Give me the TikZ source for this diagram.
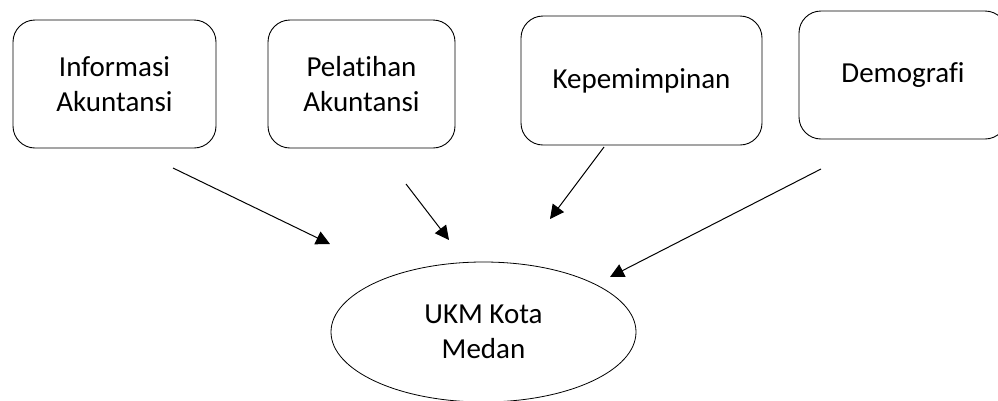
\documentclass[tikz,border=0pt]{standalone}
\usepackage{fontspec}
\setmainfont{Carlito}[Ligatures=NoCommon]
\newcommand{\nolig}{\kern0pt{}}
\usetikzlibrary{arrows.meta,shapes.geometric}
\begin{document}
\begin{tikzpicture}[x=1pt,y=-1pt,
  box/.style={draw, line width=0.9pt, rounded corners=22pt, align=center, inner sep=0pt,
    font=\fontsize{29}{35}\selectfont},
  oval/.style={draw, ellipse, line width=0.8pt, inner sep=0pt, align=center,
    font=\fontsize{29}{35}\selectfont},
  arr/.style={line width=1pt, -{Triangle[length=14pt,width=14pt]}}]
\useasboundingbox (0,0) rectangle (998,400);
\clip (0,0) rectangle (998,400);
\node[box, minimum width=203pt, minimum height=128pt] (b1) at (114.5,84) {Informasi\\Akuntansi};
\node[box, minimum width=187pt, minimum height=128pt] (b2) at (361.5,84) {Pelat\nolig ihan\\Akuntansi};
\node[box, minimum width=241pt, minimum height=129pt] (b3) at (641.5,80.5) {Kepemimpinan};
\node[box, minimum width=208pt, minimum height=128pt] (b4) at (903,75) {Demograf\nolig i};
\node[oval, minimum width=305pt, minimum height=140pt] (e) at (483.5,332) {UKM Kota\\Medan};
\coordinate (s1) at (173,168);
\coordinate (t1) at (330,244);
\coordinate (s2) at (406,184);
\coordinate (t2) at (449,240);
\coordinate (s3) at (604,147);
\coordinate (t3) at (550,219);
\coordinate (s4) at (821,169);
\coordinate (t4) at (610,277);
\draw[arr] (s1) -- (t1);
\draw[arr] (s2) -- (t2);
\draw[arr] (s3) -- (t3);
\draw[arr] (s4) -- (t4);
\end{tikzpicture}
\end{document}
